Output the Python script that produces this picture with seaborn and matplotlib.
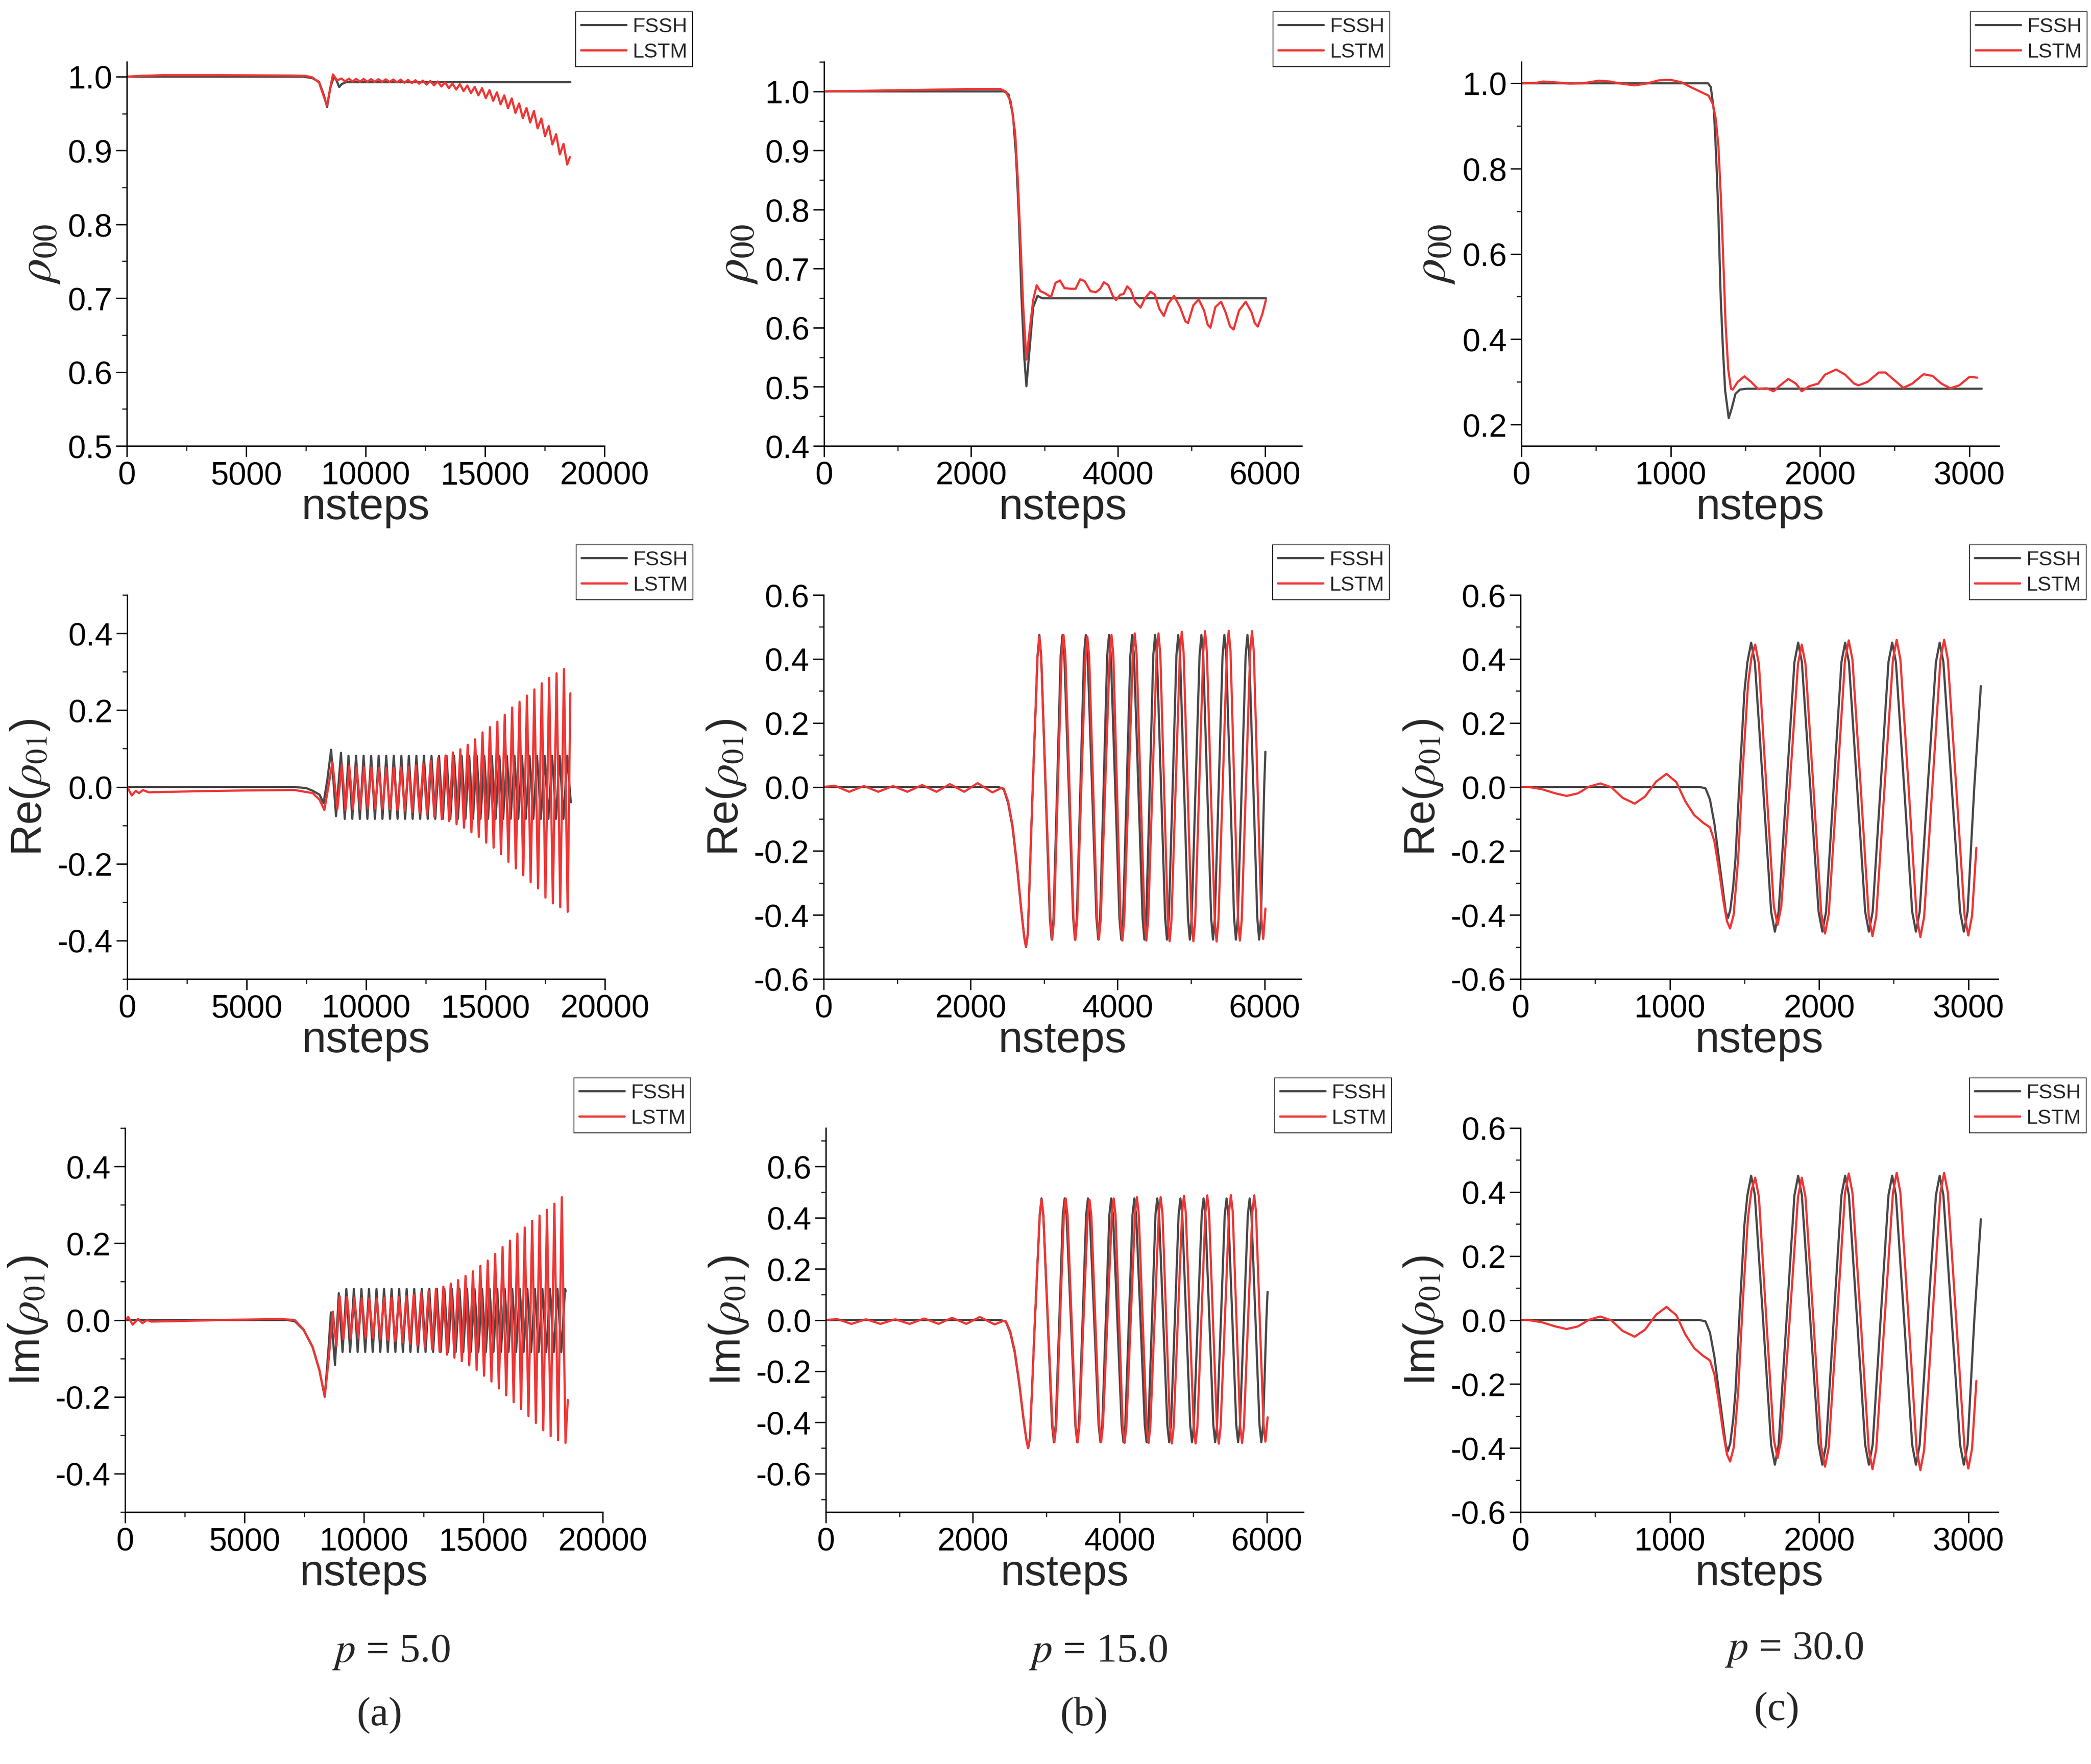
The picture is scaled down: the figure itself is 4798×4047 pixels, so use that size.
"""
FSSH vs LSTM density-matrix elements for three momenta (p = 5, 15, 30).
Values read off the published figure.
"""
import numpy as np
import pandas as pd
import matplotlib
matplotlib.use('Agg')
import matplotlib.pyplot as plt
from matplotlib.ticker import MultipleLocator, FuncFormatter
import seaborn as sns

FSSH_COLOR = '#474747'
LSTM_COLOR = '#ef3535'

# ---------------- p = 5.0 ----------------
# rho_00
C1_RHO_FSSH_X = [0, 7400, 7770, 8050, 8250, 8386, 8520, 8667, 8780, 8892, 9000, 9174, 18572]
C1_RHO_FSSH_Y = [1.0, 1.0, 0.998, 0.993, 0.975, 0.959, 0.985, 1.0, 0.995, 0.986, 0.99, 0.9925, 0.9925]
C1_RHO_LSTM_PRE_X = [0, 500, 1500, 4000, 7000, 7500, 7770, 8050, 8250, 8386, 8520, 8630, 8810]
C1_RHO_LSTM_PRE_Y = [1.0, 1.001, 1.002, 1.002, 1.0015, 1.001, 0.999, 0.992, 0.973, 0.961, 0.985, 1.003, 0.995]

# oscillation extrema positions (FSSH and LSTM run at slightly different periods)
C1_FSSH_PK_X = [9265, 9581, 9897, 10212, 10528, 10844, 11160, 11476, 11791, 12107,
                12423, 12739, 13055, 13370, 13686, 14002, 14318, 14634, 14949, 15265,
                15581, 15897, 16213, 16528, 16844, 17160, 17476, 17792, 18107, 18423]
C1_FSSH_TR_X = [9107, 9423, 9739, 10055, 10370, 10686, 11002, 11318, 11634, 11949,
                12265, 12581, 12897, 13213, 13528, 13844, 14160, 14476, 14792, 15107,
                15423, 15739, 16055, 16371, 16686, 17002, 17318, 17634, 17950, 18265]
C1_FSSH_PK_Y = [0.081] * len(C1_FSSH_PK_X)
C1_FSSH_TR_Y = [-0.083] * len(C1_FSSH_TR_X)

C1_LSTM_PK_X = [8986, 9296, 9606, 9916, 10226, 10536, 10846, 11156, 11466, 11776,
                12086, 12396, 12706, 13016, 13326, 13636, 13946, 14256, 14566, 14876,
                15186, 15496, 15806, 16116, 16426, 16736, 17046, 17356, 17666, 17976, 18286]
C1_LSTM_TR_X = [9141, 9451, 9761, 10071, 10381, 10691, 11001, 11311, 11621, 11931,
                12241, 12551, 12861, 13171, 13481, 13791, 14101, 14411, 14721, 15031,
                15341, 15651, 15961, 16271, 16581, 16891, 17201, 17511, 17821, 18131, 18441]

C1_RHO_LSTM_PK_Y = [0.9975, 0.9972, 0.997, 0.9968, 0.9967, 0.9966, 0.9964, 0.9962, 0.996, 0.9956,
                    0.9952, 0.9947, 0.9942, 0.9935, 0.9923, 0.9907, 0.9898, 0.988, 0.9862, 0.9844,
                    0.9817, 0.9788, 0.9747, 0.9705, 0.9638, 0.9576, 0.9535, 0.9433, 0.9331, 0.922, 0.909]
C1_RHO_LSTM_TR_Y = [0.9935, 0.9934, 0.9932, 0.9931, 0.993, 0.9929, 0.9927, 0.9923, 0.9919, 0.9913,
                    0.9905, 0.9893, 0.9882, 0.9867, 0.9845, 0.9826, 0.9805, 0.9777, 0.9747, 0.971,
                    0.9673, 0.9625, 0.9572, 0.9509, 0.9438, 0.938, 0.93, 0.9193, 0.9082, 0.8947, 0.881]

# Re(rho_01)
C1_RE_FSSH_PRE_X = [0, 7000, 7500, 7770, 8050, 8220, 8380, 8536, 8742, 8949]
C1_RE_FSSH_PRE_Y = [0, 0, -0.003, -0.01, -0.02, -0.042, 0.02, 0.097, -0.076, 0.089]
C1_RE_LSTM_PRE_X = [0, 188, 356, 488, 657, 900, 1500, 3000, 5000, 7016, 7767, 8048, 8254, 8420, 8592, 8798]
C1_RE_LSTM_PRE_Y = [0, -0.022, -0.01, -0.016, -0.008, -0.014, -0.013, -0.011, -0.009, -0.008,
                    -0.016, -0.033, -0.06, 0.0, 0.065, -0.057]
C1_RE_LSTM_PK_Y = [0.058, 0.055, 0.053, 0.052, 0.051, 0.05, 0.05, 0.05, 0.051, 0.053,
                   0.056, 0.06, 0.068, 0.075, 0.082, 0.09, 0.098, 0.11, 0.124, 0.142,
                   0.156, 0.17, 0.188, 0.207, 0.222, 0.238, 0.254, 0.27, 0.284, 0.296, 0.307]
C1_RE_LSTM_TR_Y = [-0.06, -0.058, -0.057, -0.056, -0.056, -0.057, -0.058, -0.06, -0.062, -0.065,
                   -0.068, -0.072, -0.078, -0.084, -0.089, -0.097, -0.106, -0.118, -0.13, -0.145,
                   -0.158, -0.175, -0.195, -0.212, -0.23, -0.248, -0.264, -0.288, -0.303, -0.313, -0.325]

# Im(rho_01)
C1_IM_FSSH_PRE_X = [0, 6800, 7104, 7479, 7854, 8135, 8360, 8500, 8620, 8790, 8949]
C1_IM_FSSH_PRE_Y = [0, 0, -0.003, -0.026, -0.071, -0.13, -0.199, -0.09, 0.02, -0.117, 0.07]
C1_IM_LSTM_PRE_X = [0, 131, 319, 544, 731, 918, 1106, 2000, 4000, 6500, 7104, 7479, 7854,
                    8135, 8360, 8530, 8697, 8850]
C1_IM_LSTM_PRE_Y = [0, 0.008, -0.012, 0.003, -0.008, 0.0, -0.004, -0.003, 0.0, 0.003, 0.0,
                    -0.025, -0.07, -0.13, -0.2, -0.1, 0.022, -0.068]
C1_IM_LSTM_PK_Y = [0.062, 0.06, 0.058, 0.057, 0.056, 0.056, 0.057, 0.058, 0.06, 0.062,
                   0.066, 0.07, 0.075, 0.081, 0.087, 0.095, 0.104, 0.115, 0.127, 0.141,
                   0.155, 0.172, 0.19, 0.207, 0.225, 0.241, 0.258, 0.272, 0.287, 0.303, 0.32]
C1_IM_LSTM_TR_Y = [-0.05, -0.048, -0.046, -0.046, -0.047, -0.049, -0.052, -0.055, -0.058, -0.062,
                   -0.066, -0.071, -0.077, -0.083, -0.09, -0.098, -0.107, -0.118, -0.13, -0.145,
                   -0.16, -0.178, -0.196, -0.214, -0.232, -0.25, -0.268, -0.287, -0.302, -0.313, -0.32]

# ---------------- p = 15.0 ----------------
C2_RHO_FSSH_X = [0, 2450, 2510, 2570, 2613, 2650, 2686, 2723, 2753, 2796, 2845, 2905, 2966, 6012]
C2_RHO_FSSH_Y = [1.0, 1.0, 0.995, 0.96, 0.889, 0.789, 0.653, 0.552, 0.501, 0.564, 0.635, 0.654, 0.65, 0.65]
C2_RHO_LSTM_X = [0, 1000, 2000, 2400, 2470, 2540, 2600, 2637, 2674, 2710, 2753, 2796, 2845, 2893,
                 2942, 2997, 3088, 3149, 3210, 3271, 3362, 3423, 3484, 3545, 3624, 3697, 3758, 3807,
                 3868, 3929, 3971, 4032, 4075, 4124, 4173, 4233, 4306, 4367, 4441, 4501, 4562, 4623,
                 4684, 4763, 4843, 4916, 4952, 5025, 5098, 5171, 5220, 5257, 5324, 5403, 5464, 5525,
                 5573, 5646, 5738, 5817, 5860, 5902, 5963, 6012]
C2_RHO_LSTM_Y = [1.0, 1.002, 1.004, 1.004, 1.0, 0.983, 0.93, 0.848, 0.741, 0.635, 0.546, 0.594, 0.647, 0.672,
                 0.662, 0.659, 0.652, 0.676, 0.68, 0.667, 0.666, 0.666, 0.682, 0.679, 0.662, 0.66, 0.666, 0.677,
                 0.672, 0.654, 0.647, 0.656, 0.657, 0.67, 0.664, 0.644, 0.634, 0.65, 0.661, 0.656, 0.632, 0.62,
                 0.641, 0.654, 0.635, 0.611, 0.608, 0.638, 0.648, 0.629, 0.605, 0.6, 0.635, 0.644, 0.626, 0.602,
                 0.597, 0.629, 0.644, 0.626, 0.608, 0.602, 0.623, 0.647]

# Re(rho_01) and Im(rho_01) coincide in the source for p = 15
C2_COH_FSSH_X = [0, 2380, 2450, 2510, 2570, 2630, 2690, 2730, 2753, 2778, 2845, 2910, 2935,
                 2960, 3019, 3078, 3103, 3128, 3177, 3225, 3250,
                 3275, 3335, 3395, 3420, 3445, 3494, 3542, 3567,
                 3592, 3652, 3712, 3737, 3762, 3810, 3858, 3883,
                 3908, 3967, 4025, 4050, 4075, 4124, 4173, 4198,
                 4223, 4282, 4340, 4365, 4390, 4438, 4485, 4510,
                 4535, 4591, 4647, 4672, 4697, 4749, 4800, 4825,
                 4850, 4904, 4958, 4983, 5008, 5061, 5115, 5140,
                 5165, 5219, 5273, 5298, 5323, 5376, 5428, 5453,
                 5478, 5532, 5585, 5610, 5635, 5689, 5742, 5767,
                 5792, 5847, 5901, 5926, 5951, 5995, 6011]
C2_COH_FSSH_Y = [0, 0, -0.007, -0.05, -0.126, -0.246, -0.388, -0.47, -0.5, -0.46, 0, 0.41, 0.475,
                 0.41, 0, -0.41, -0.477, -0.41, 0, 0.41, 0.475,
                 0.41, 0, -0.41, -0.477, -0.41, 0, 0.41, 0.475,
                 0.41, 0, -0.41, -0.477, -0.41, 0, 0.41, 0.475,
                 0.41, 0, -0.41, -0.477, -0.41, 0, 0.41, 0.475,
                 0.41, 0, -0.41, -0.477, -0.41, 0, 0.41, 0.475,
                 0.41, 0, -0.41, -0.477, -0.41, 0, 0.41, 0.475,
                 0.41, 0, -0.41, -0.477, -0.41, 0, 0.41, 0.475,
                 0.41, 0, -0.41, -0.477, -0.41, 0, 0.41, 0.475,
                 0.41, 0, -0.41, -0.477, -0.41, 0, 0.41, 0.475,
                 0.41, 0, -0.41, -0.477, -0.41, 0, 0.11]
C2_COH_LSTM_X = [0, 152, 347, 548, 743, 944, 1139, 1340, 1535, 1717, 1912, 2095, 2296, 2418,
                 2450, 2510, 2570, 2630, 2690, 2730, 2753, 2778, 2845, 2910, 2935,
                 2960, 3022, 3085, 3110, 3135, 3187, 3239, 3264,
                 3289, 3345, 3400, 3425, 3450, 3506, 3563, 3588,
                 3613, 3667, 3721, 3746, 3771, 3831, 3892, 3917,
                 3942, 3991, 4040, 4065, 4090, 4149, 4208, 4233,
                 4258, 4312, 4366, 4391, 4416, 4473, 4531, 4556,
                 4581, 4632, 4683, 4708, 4733, 4790, 4848, 4873,
                 4898, 4952, 5006, 5031, 5056, 5110, 5165, 5190,
                 5215, 5268, 5322, 5347, 5372, 5430, 5487, 5512,
                 5537, 5588, 5639, 5664, 5689, 5746, 5804, 5829,
                 5854, 5905, 5957, 5982, 6012]
C2_COH_LSTM_Y = [0, 0.004, -0.015, 0.003, -0.015, 0.003, -0.015, 0.006, -0.015, 0.009, -0.015, 0.012, -0.017, -0.003,
                 -0.005, -0.045, -0.12, -0.24, -0.385, -0.47, -0.5, -0.46, 0, 0.405, 0.47,
                 0.407, 0, -0.413, -0.477, -0.413, 0, 0.411, 0.475,
                 0.411, 0, -0.414, -0.478, -0.414, 0, 0.407, 0.47,
                 0.407, 0, -0.412, -0.476, -0.412, 0, 0.411, 0.475,
                 0.411, 0, -0.416, -0.48, -0.416, 0, 0.416, 0.48,
                 0.416, 0, -0.416, -0.48, -0.416, 0, 0.416, 0.48,
                 0.416, 0, -0.417, -0.482, -0.417, 0, 0.42, 0.485,
                 0.42, 0, -0.417, -0.482, -0.417, 0, 0.422, 0.487,
                 0.422, 0, -0.418, -0.483, -0.418, 0, 0.423, 0.488,
                 0.423, 0, -0.416, -0.48, -0.416, 0, 0.422, 0.487,
                 0.422, 0, -0.411, -0.475, -0.38]

# ---------------- p = 30.0 ----------------
C3_RHO_FSSH_X = [0, 1250, 1269, 1290, 1305, 1320, 1335, 1350, 1365, 1389, 1410, 1434, 1464, 1509, 3084]
C3_RHO_FSSH_Y = [1.0, 1.0, 0.991, 0.934, 0.828, 0.689, 0.5, 0.378, 0.28, 0.215, 0.239, 0.272, 0.282, 0.284, 0.284]
C3_RHO_LSTM_X = [0, 99, 144, 234, 324, 414, 519, 594, 669, 759, 834, 924, 999, 1074, 1134, 1194, 1254,
                 1284, 1302, 1320, 1338, 1353, 1368, 1386, 1404, 1416, 1449, 1494, 1539, 1584, 1644,
                 1689, 1734, 1788, 1839, 1878, 1929, 1989, 2034, 2109, 2169, 2229, 2259, 2319, 2394,
                 2439, 2499, 2559, 2619, 2694, 2754, 2814, 2874, 2934, 3003, 3054]
C3_RHO_LSTM_Y = [1.0, 1.001, 1.004, 1.002, 0.999, 1.0, 1.006, 1.004, 0.999, 0.995, 0.999, 1.007, 1.008, 1.002,
                 0.991, 0.981, 0.971, 0.95, 0.917, 0.852, 0.721, 0.582, 0.435, 0.329, 0.284, 0.282, 0.3,
                 0.313, 0.3, 0.284, 0.285, 0.278, 0.292, 0.307, 0.296, 0.278, 0.29, 0.296, 0.317, 0.329,
                 0.317, 0.296, 0.292, 0.3, 0.322, 0.322, 0.304, 0.286, 0.296, 0.318, 0.314, 0.296, 0.285,
                 0.292, 0.312, 0.31]

# Re(rho_01) and Im(rho_01) coincide in the source for p = 30
C3_COH_FSSH_X = [0, 1200, 1239, 1269, 1299, 1329, 1359, 1375, 1389, 1405, 1425, 1440, 1465, 1500, 1520, 1545,
                 1570, 1625, 1679, 1704, 1729, 1782, 1835, 1860,
                 1885, 1941, 1997, 2022, 2047, 2098, 2150, 2175,
                 2200, 2255, 2309, 2334, 2359, 2412, 2465, 2490,
                 2515, 2570, 2624, 2649, 2674, 2728, 2783, 2808,
                 2833, 2889, 2945, 2970, 2995, 3040, 3084]
C3_COH_FSSH_Y = [0, 0, -0.004, -0.039, -0.115, -0.224, -0.333, -0.39, -0.41, -0.385, -0.31, -0.224, 0, 0.298, 0.39, 0.451,
                 0.39, 0, -0.39, -0.452, -0.39, 0, 0.39, 0.451,
                 0.39, 0, -0.39, -0.452, -0.39, 0, 0.39, 0.451,
                 0.39, 0, -0.39, -0.452, -0.39, 0, 0.39, 0.451,
                 0.39, 0, -0.39, -0.452, -0.39, 0, 0.39, 0.451,
                 0.39, 0, -0.39, -0.452, -0.39, 0, 0.315]
C3_COH_LSTM_X = [0, 54, 144, 234, 309, 384, 459, 534, 609, 684, 765, 834, 909, 978, 1044, 1104, 1164, 1224,
                 1269, 1299, 1329, 1359, 1383, 1404, 1428, 1458, 1488, 1524, 1547, 1572,
                 1597, 1647, 1697, 1722, 1747, 1803, 1859, 1884,
                 1909, 1962, 2015, 2040, 2065, 2120, 2174, 2199,
                 2224, 2279, 2333, 2358, 2383, 2439, 2495, 2520,
                 2545, 2600, 2654, 2679, 2704, 2759, 2813, 2838,
                 2863, 2919, 2975, 3000, 3025, 3054]
C3_COH_LSTM_Y = [0, 0, -0.007, -0.02, -0.028, -0.02, 0.001, 0.011, -0.001, -0.034, -0.052, -0.03, 0.017, 0.041,
                 0.015, -0.045, -0.088, -0.112, -0.126, -0.17, -0.257, -0.355, -0.42, -0.442, -0.399, -0.224,
                 0.048, 0.32, 0.405, 0.445,
                 0.385, 0, -0.373, -0.431, -0.373, 0, 0.385, 0.445,
                 0.385, 0, -0.397, -0.458, -0.397, 0, 0.397, 0.458,
                 0.397, 0, -0.404, -0.466, -0.404, 0, 0.398, 0.46,
                 0.398, 0, -0.406, -0.469, -0.406, 0, 0.398, 0.46,
                 0.398, 0, -0.402, -0.464, -0.402, -0.19]

CAPTIONS = ['5.0', '15.0', '30.0']
PANEL_TAGS = ['(a)', '(b)', '(c)']

W, H = 4798, 4048


def frame(x, y):
    return pd.DataFrame({'nsteps': x, 'value': y})


def oscillation(pre_x, pre_y, pk_x, pk_y, tr_x, tr_y, end_x, end_y):
    ext = sorted(list(zip(pk_x, pk_y)) + list(zip(tr_x, tr_y)))
    xs = list(pre_x) + [p[0] for p in ext] + [end_x]
    ys = list(pre_y) + [p[1] for p in ext] + [end_y]
    return frame(xs, ys)


def tick_fmt(v, pos):
    if abs(v) < 1e-9:
        v = 0.0
    return f'{v:.1f}'


def style_axes(ax, xlim, xmaj, xmin, ylim, ymaj, ymin, ylabel, ysize=72):
    ax.set_xlim(*xlim)
    ax.set_ylim(*ylim)
    ax.xaxis.set_major_locator(MultipleLocator(xmaj))
    ax.xaxis.set_minor_locator(MultipleLocator(xmin))
    ax.yaxis.set_major_locator(MultipleLocator(ymaj))
    ax.yaxis.set_minor_locator(MultipleLocator(ymin))
    ax.yaxis.set_major_formatter(FuncFormatter(tick_fmt))
    for s in ('top', 'right'):
        ax.spines[s].set_visible(False)
    for s in ('left', 'bottom'):
        ax.spines[s].set_linewidth(2.3)
        ax.spines[s].set_color('black')
    ax.tick_params(which='major', direction='out', length=18, width=2.3, labelsize=53, pad=6, colors='black')
    ax.tick_params(which='minor', direction='out', length=8, width=2.0)
    ax.set_xlabel('nsteps', fontsize=72, labelpad=-6)
    ax.set_ylabel(ylabel, fontsize=ysize, labelpad=10)
    leg = ax.legend(loc='upper right', bbox_to_anchor=(1.184, 1.13), borderaxespad=0,
                    fontsize=34, frameon=True, fancybox=False, edgecolor='black', framealpha=1,
                    handlelength=2.2, handletextpad=0.3, borderpad=0.25, labelspacing=0.3)
    leg.get_frame().set_linewidth(1.2)


def draw(ax, fssh, lstm):
    sns.lineplot(data=fssh, x='nsteps', y='value', color=FSSH_COLOR, lw=3.6, estimator=None,
                 sort=False, ax=ax, label='FSSH')
    sns.lineplot(data=lstm, x='nsteps', y='value', color=LSTM_COLOR, lw=3.6, estimator=None,
                 sort=False, ax=ax, label='LSTM')


sns.set_theme(style='ticks')
plt.rcParams['font.family'] = ['Liberation Sans', 'DejaVu Sans']
plt.rcParams['mathtext.fontset'] = 'stix'
plt.rcParams['axes.unicode_minus'] = False

fig = plt.figure(figsize=(W / 100, H / 100), dpi=100)

col_left = [[291, 1891, 3491], [292, 1890, 3489], [287, 1895, 3489]]
row_top = [143, 1366, 2589]
ax_w, ax_h = 1096, 881
axes = [[fig.add_axes([col_left[r][c] / W, 1 - (row_top[r] + ax_h) / H, ax_w / W, ax_h / H])
         for c in range(3)] for r in range(3)]

rho_lbl = r'$\rho_{00}$'
re_lbl = r'Re($\rho_{01}$)'
im_lbl = r'Im($\rho_{01}$)'

# column (a): p = 5.0
c1_rho_lstm = oscillation(C1_RHO_LSTM_PRE_X, C1_RHO_LSTM_PRE_Y, C1_LSTM_PK_X, C1_RHO_LSTM_PK_Y,
                          C1_LSTM_TR_X, C1_RHO_LSTM_TR_Y, 18553, 0.891)
draw(axes[0][0], frame(C1_RHO_FSSH_X, C1_RHO_FSSH_Y), c1_rho_lstm)
style_axes(axes[0][0], (0, 20000), 5000, 2500, (0.5, 1.02), 0.1, 0.05, rho_lbl, 80)

c1_re_fssh = oscillation(C1_RE_FSSH_PRE_X, C1_RE_FSSH_PRE_Y, C1_FSSH_PK_X, C1_FSSH_PK_Y,
                         C1_FSSH_TR_X, C1_FSSH_TR_Y, 18572, -0.04)
c1_re_lstm = oscillation(C1_RE_LSTM_PRE_X, C1_RE_LSTM_PRE_Y, C1_LSTM_PK_X, C1_RE_LSTM_PK_Y,
                         C1_LSTM_TR_X, C1_RE_LSTM_TR_Y, 18553, 0.244)
draw(axes[1][0], c1_re_fssh, c1_re_lstm)
style_axes(axes[1][0], (0, 20000), 5000, 2500, (-0.5, 0.5), 0.2, 0.1, re_lbl)

c1_im_fssh = oscillation(C1_IM_FSSH_PRE_X, C1_IM_FSSH_PRE_Y, C1_FSSH_PK_X, C1_FSSH_PK_Y,
                         C1_FSSH_TR_X, C1_FSSH_TR_Y, 18450, 0.075)
c1_im_lstm = oscillation(C1_IM_LSTM_PRE_X, C1_IM_LSTM_PRE_Y, C1_LSTM_PK_X, C1_IM_LSTM_PK_Y,
                         C1_LSTM_TR_X, C1_IM_LSTM_TR_Y, 18538, -0.208)
draw(axes[2][0], c1_im_fssh, c1_im_lstm)
style_axes(axes[2][0], (0, 20000), 5000, 2500, (-0.5, 0.5), 0.2, 0.1, im_lbl)

# column (b): p = 15.0
draw(axes[0][1], frame(C2_RHO_FSSH_X, C2_RHO_FSSH_Y), frame(C2_RHO_LSTM_X, C2_RHO_LSTM_Y))
style_axes(axes[0][1], (0, 6500), 2000, 1000, (0.4, 1.05), 0.1, 0.05, rho_lbl, 80)
draw(axes[1][1], frame(C2_COH_FSSH_X, C2_COH_FSSH_Y), frame(C2_COH_LSTM_X, C2_COH_LSTM_Y))
style_axes(axes[1][1], (0, 6500), 2000, 1000, (-0.6, 0.6), 0.2, 0.1, re_lbl)
draw(axes[2][1], frame(C2_COH_FSSH_X, C2_COH_FSSH_Y), frame(C2_COH_LSTM_X, C2_COH_LSTM_Y))
style_axes(axes[2][1], (0, 6500), 2000, 1000, (-0.75, 0.75), 0.2, 0.1, im_lbl)

# column (c): p = 30.0
draw(axes[0][2], frame(C3_RHO_FSSH_X, C3_RHO_FSSH_Y), frame(C3_RHO_LSTM_X, C3_RHO_LSTM_Y))
style_axes(axes[0][2], (0, 3200), 1000, 500, (0.15, 1.05), 0.2, 0.1, rho_lbl, 80)
draw(axes[1][2], frame(C3_COH_FSSH_X, C3_COH_FSSH_Y), frame(C3_COH_LSTM_X, C3_COH_LSTM_Y))
style_axes(axes[1][2], (0, 3200), 1000, 500, (-0.6, 0.6), 0.2, 0.1, re_lbl)
draw(axes[2][2], frame(C3_COH_FSSH_X, C3_COH_FSSH_Y), frame(C3_COH_LSTM_X, C3_COH_LSTM_Y))
style_axes(axes[2][2], (0, 3200), 1000, 500, (-0.6, 0.6), 0.2, 0.1, im_lbl)

# captions under each column
cap_x = [897, 2520, 4117]
cap_y = [3812, 3812, 3806]
tag_x = [871, 2488, 4077]
tag_y = [3936, 3936, 3924]
for i in range(3):
    fig.text(cap_x[i] / W, 1 - cap_y[i] / H, r'$p$ = ' + CAPTIONS[i], fontsize=68,
             family='Liberation Serif', ha='center', va='baseline')
    fig.text(tag_x[i] / W, 1 - tag_y[i] / H, PANEL_TAGS[i], fontsize=68,
             family='Liberation Serif', ha='center', va='center')

fig.savefig('out.png', dpi=100)
